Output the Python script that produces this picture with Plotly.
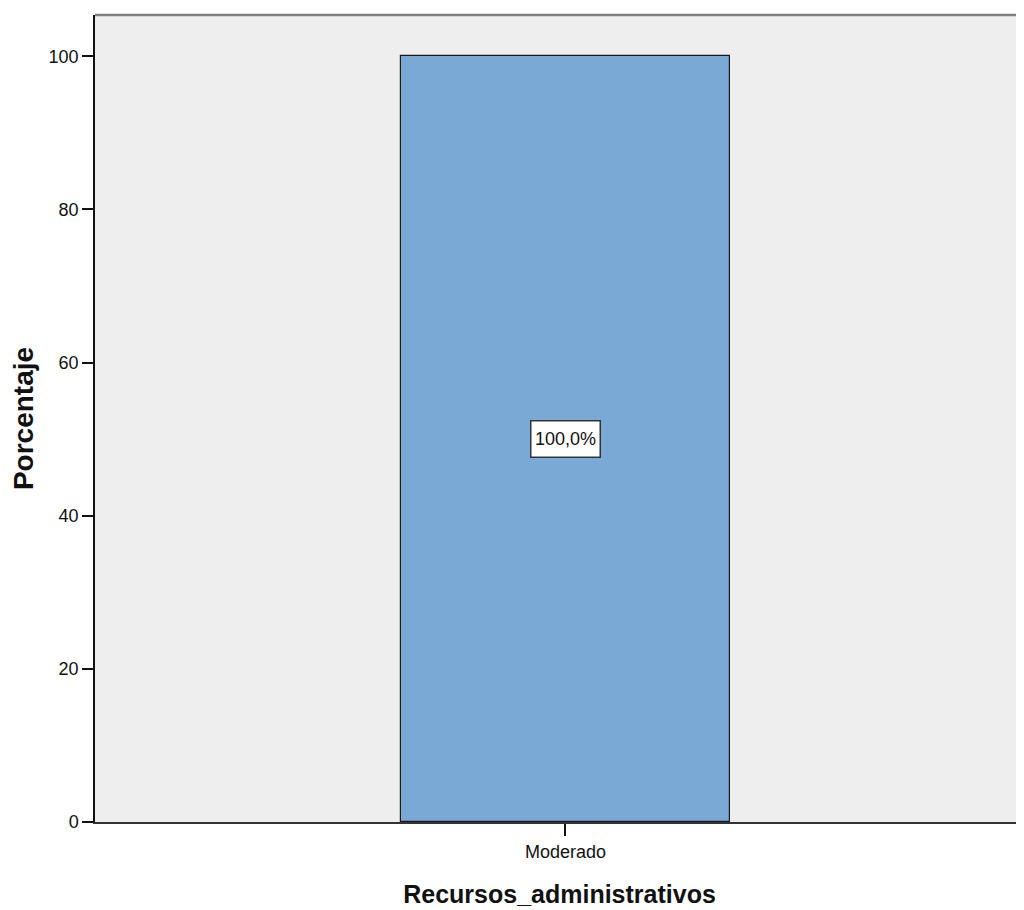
import plotly.graph_objects as go

categories = ["Moderado"]
values = [100.0]
labels = ["100,0%"]
x_title = "Recursos_administrativos"
y_title = "Porcentaje"
y_ticks = [0, 20, 40, 60, 80, 100]

FONT = "Liberation Sans, Arial, sans-serif"

fig = go.Figure()
fig.add_trace(go.Bar(
    x=categories, y=values, width=1.0,
    marker=dict(color="#7BA9D6", line=dict(color="#1a1a1a", width=1.2)),
    hoverinfo="skip", showlegend=False,
))
for c, v, t in zip(categories, values, labels):
    fig.add_annotation(
        x=c, y=v / 2, text=t, showarrow=False,
        font=dict(family=FONT, size=18, color="#111"),
        bgcolor="white", bordercolor="#333", borderwidth=1.5,
        borderpad=3, width=62, height=29, align="center", valign="middle",
    )

fig.update_layout(
    width=1016, height=902, autosize=False,
    margin=dict(l=87, r=0, t=7, b=88, pad=0),
    paper_bgcolor="white", plot_bgcolor="#EEEEEE",
    font=dict(family=FONT, size=18, color="#111"),
    bargap=0,
)
fig.update_xaxes(
    type="category", range=[-1.430, 1.394],
    showline=True, linecolor="#333", linewidth=2,
    ticks="outside", ticklen=12, tickwidth=1.5, tickcolor="#111",
    tickfont=dict(family=FONT, size=18),
    showgrid=False, zeroline=False,
    title=dict(text="<b>" + x_title + "</b>", font=dict(family=FONT, size=25, color="#111"), standoff=25),
)
fig.update_yaxes(
    range=[0, 105.4], tickvals=y_ticks,
    showline=True, linecolor="#111", linewidth=1.5,
    ticks="outside", ticklen=11, tickwidth=1.5, tickcolor="#111",
    tickfont=dict(family=FONT, size=18),
    showgrid=False, zeroline=False,
    title=dict(text="<b>" + y_title + "</b>", font=dict(family=FONT, size=28, color="#111"), standoff=11),
)
fig.add_shape(type="line", xref="paper", yref="paper", x0=0, x1=1, y0=1, y1=1,
              line=dict(color="#7f7f7f", width=2.5))

fig.write_html("out.html")
